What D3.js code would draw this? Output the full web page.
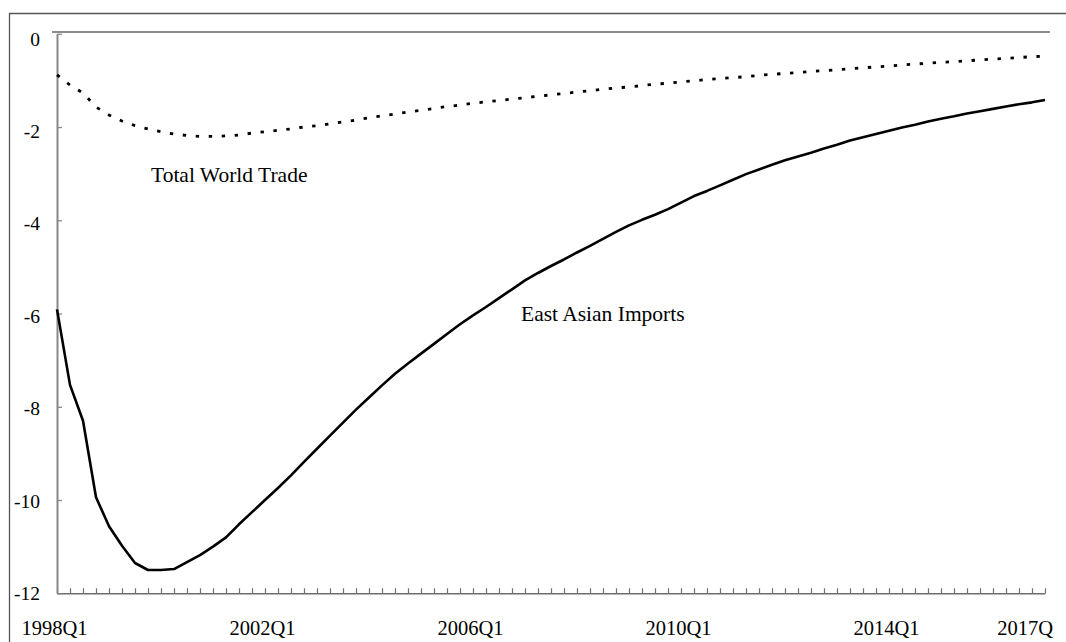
<!DOCTYPE html>
<html>
<head>
<meta charset="utf-8">
<script src="https://cdn.jsdelivr.net/npm/d3@7"></script>
<style>
  html, body { margin: 0; padding: 0; background: #fff; }
  svg { display: block; }
  text { font-family: "Liberation Serif", "Times New Roman", serif; fill: #000; }
</style>
</head>
<body>
<svg id="chart" width="1066" height="642"></svg>
<script>
// Quarterly periods, 1998Q1 through 2017Q1
const quarters = [];
for (let yr = 1998; yr <= 2017; yr++) {
  for (let q = 1; q <= 4; q++) {
    if (yr === 2017 && q > 1) break;
    quarters.push(yr + "Q" + q);
  }
}

// Labelled quarters on the time axis and the text shown under them
const xTickQuarters = ["1998Q1", "2002Q1", "2006Q1", "2010Q1", "2014Q1", "2017Q1"];
const xTickLabels   = ["1998Q1", "2002Q1", "2006Q1", "2010Q1", "2014Q1", "2017Q"];

// Value-axis ticks
const yTicks = [0, -2, -4, -6, -8, -10, -12];

// Percentage deviation, East Asian imports
const eastAsianImports = [
  -5.91, -7.53, -8.30, -9.94, -10.56, -10.98, -11.35, -11.50, -11.50, -11.48,
  -11.33, -11.18, -11.00, -10.80, -10.52, -10.26, -10.00, -9.74, -9.47, -9.18,
  -8.90, -8.62, -8.34, -8.06, -7.80, -7.54, -7.29, -7.07, -6.86, -6.65,
  -6.44, -6.23, -6.04, -5.86, -5.67, -5.48, -5.29, -5.13, -4.98, -4.84,
  -4.69, -4.55, -4.40, -4.25, -4.11, -3.99, -3.88, -3.76, -3.62, -3.48,
  -3.37, -3.25, -3.13, -3.01, -2.91, -2.81, -2.71, -2.63, -2.55, -2.46,
  -2.38, -2.29, -2.22, -2.15, -2.08, -2.01, -1.95, -1.88, -1.82, -1.77,
  -1.71, -1.66, -1.61, -1.56, -1.51, -1.47, -1.42
];

// Percentage deviation, total world trade
const totalWorldTrade = [
  -0.88, -1.10, -1.27, -1.57, -1.74, -1.87, -1.97, -2.04, -2.10, -2.15,
  -2.18, -2.20, -2.20, -2.19, -2.17, -2.13, -2.10, -2.07, -2.04, -2.00,
  -1.97, -1.93, -1.89, -1.85, -1.80, -1.76, -1.72, -1.68, -1.64, -1.60,
  -1.56, -1.53, -1.49, -1.46, -1.43, -1.40, -1.37, -1.34, -1.31, -1.28,
  -1.25, -1.22, -1.19, -1.16, -1.14, -1.11, -1.08, -1.06, -1.03, -1.01,
  -0.98, -0.96, -0.94, -0.92, -0.89, -0.87, -0.85, -0.83, -0.81, -0.79,
  -0.77, -0.75, -0.73, -0.71, -0.69, -0.67, -0.65, -0.63, -0.61, -0.60,
  -0.58, -0.56, -0.54, -0.53, -0.51, -0.49, -0.48
];

const svg = d3.select("#chart");

// Outer frame (runs off the right and bottom edges)
svg.append("path")
  .attr("d", "M9.5,642V13.5H1066")
  .attr("fill", "none")
  .attr("stroke", "#555")
  .attr("stroke-width", 1.3);

const x = d3.scalePoint().domain(quarters).range([57, 1045]);
const y = d3.scaleLinear().domain([-12, 0]).range([593.3, 33.8]);

// Rule across the top of the plot area
svg.append("line")
  .attr("x1", 52).attr("x2", 1050)
  .attr("y1", 32).attr("y2", 32)
  .attr("stroke", "#666")
  .attr("stroke-width", 1.3);

// Time axis: a small upward tick every quarter
const xAxis = svg.append("g")
  .attr("transform", `translate(0,${y(-12)})`)
  .call(d3.axisBottom(x).tickSizeInner(-5).tickSizeOuter(0).tickFormat(""));
xAxis.select(".domain").attr("stroke", "#6e6e6e").attr("stroke-width", 1.5);
xAxis.selectAll(".tick line").attr("stroke", "#6e6e6e").attr("stroke-width", 1.2);

// Labels under the time axis
svg.append("g").selectAll("text")
  .data(xTickQuarters)
  .join("text")
  .attr("x", (d, i) => i === xTickQuarters.length - 1 ? x(d) + 8 : x(d) - 2.5)
  .attr("y", 635)
  .attr("text-anchor", (d, i) => i === xTickQuarters.length - 1 ? "end" : "middle")
  .attr("font-size", 20.5)
  .text((d, i) => xTickLabels[i]);

// Value axis, ticks pointing into the plot
const yAxis = svg.append("g")
  .attr("transform", `translate(${x(quarters[0])},0)`)
  .call(d3.axisLeft(y).tickValues(yTicks).tickSizeInner(-5).tickSizeOuter(0)
    .tickPadding(17).tickFormat(d => String(d)));
yAxis.select(".domain").attr("stroke", "#888").attr("stroke-width", 2);
yAxis.selectAll(".tick line").attr("stroke", "#888").attr("stroke-width", 1.3);
yAxis.selectAll(".tick text")
  .attr("font-family", "Liberation Serif, Times New Roman, serif")
  .attr("font-size", 19.5)
  .attr("fill", "#000")
  .attr("dy", d => (0.32 * 19.5 + 5 * (1 + d / 12)) + "px");

const line = d3.line()
  .x((d, i) => x(quarters[i]))
  .y(d => y(d));

// Total world trade: dotted
svg.append("path")
  .datum(totalWorldTrade)
  .attr("d", line)
  .attr("fill", "none")
  .attr("stroke", "#000")
  .attr("stroke-width", 2.8)
  .attr("stroke-dasharray", "3.4,9.6");

// East Asian imports: solid
svg.append("path")
  .datum(eastAsianImports)
  .attr("d", line)
  .attr("fill", "none")
  .attr("stroke", "#000")
  .attr("stroke-width", 2.6)
  .attr("stroke-linejoin", "round");

// Series annotations
svg.append("text")
  .attr("x", x("1999Q4") + 3)
  .attr("y", y(-3.18))
  .attr("font-size", 21.5)
  .text("Total World Trade");

svg.append("text")
  .attr("x", x("2006Q4") + 9)
  .attr("y", y(-6.17))
  .attr("font-size", 21.5)
  .text("East Asian Imports");
</script>
</body>
</html>
